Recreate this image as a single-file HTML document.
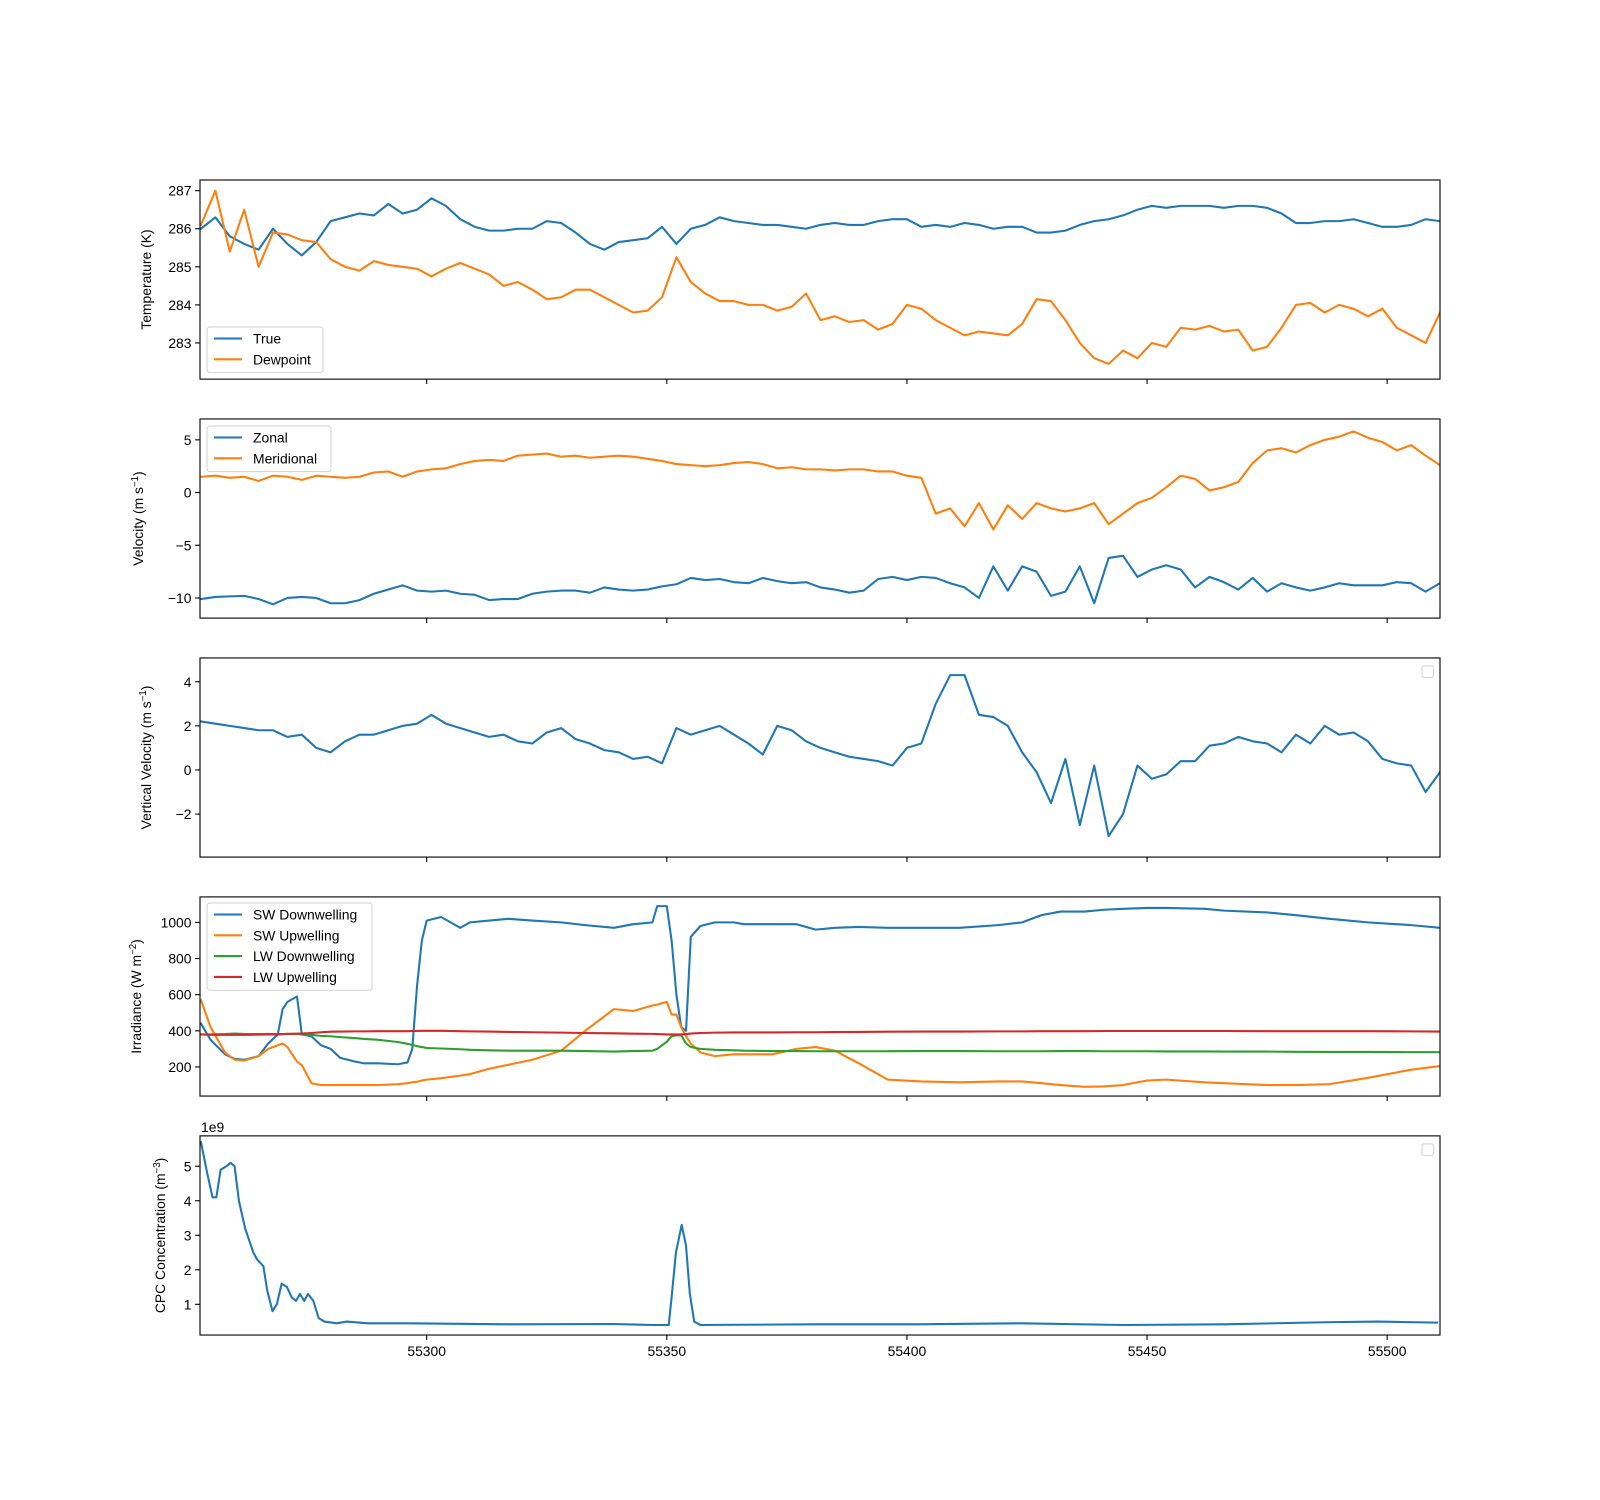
<!DOCTYPE html>
<html><head><meta charset="utf-8"><style>
html,body{margin:0;padding:0;background:#fff;}
svg{display:block;font-family:"Liberation Sans","DejaVu Sans",sans-serif;}
</style></head><body>
<svg id="fig" width="1600" height="1500" viewBox="0 0 1600 1500" xmlns="http://www.w3.org/2000/svg"></svg>
<script>
const xTicks=[55300,55350,55400,55450,55500];
const xGrid=[55253,55256,55259,55262,55265,55268,55271,55274,55277,55280,
55283,55286,55289,55292,55295,55298,55301,55304,55307,55310,
55313,55316,55319,55322,55325,55328,55331,55334,55337,55340,
55343,55346,55349,55352,55355,55358,55361,55364,55367,55370,
55373,55376,55379,55382,55385,55388,55391,55394,55397,55400,
55403,55406,55409,55412,55415,55418,55421,55424,55427,55430,
55433,55436,55439,55442,55445,55448,55451,55454,55457,55460,
55463,55466,55469,55472,55475,55478,55481,55484,55487,55490,
55493,55496,55499,55502,55505,55508,55511];
const tempTrue=[286.0,286.3,285.8,285.6,285.45,286.0,285.6,285.3,285.65,286.2,
286.3,286.4,286.35,286.65,286.4,286.5,286.8,286.6,286.25,286.05,
285.95,285.95,286.0,286.0,286.2,286.15,285.9,285.6,285.45,285.65,
285.7,285.75,286.05,285.6,286.0,286.1,286.3,286.2,286.15,286.1,
286.1,286.05,286.0,286.1,286.15,286.1,286.1,286.2,286.25,286.25,
286.05,286.1,286.05,286.15,286.1,286.0,286.05,286.05,285.9,285.9,
285.95,286.1,286.2,286.25,286.35,286.5,286.6,286.55,286.6,286.6,
286.6,286.55,286.6,286.6,286.55,286.4,286.15,286.15,286.2,286.2,
286.25,286.15,286.05,286.05,286.1,286.25,286.2];
const tempDew=[286.1,287.0,285.4,286.5,285.0,285.9,285.85,285.7,285.65,285.2,
285.0,284.9,285.15,285.05,285.0,284.95,284.75,284.95,285.1,284.95,
284.8,284.5,284.6,284.4,284.15,284.2,284.4,284.4,284.2,284.0,
283.8,283.85,284.2,285.25,284.6,284.3,284.1,284.1,284.0,284.0,
283.85,283.95,284.3,283.6,283.7,283.55,283.6,283.35,283.5,284.0,
283.9,283.6,283.4,283.2,283.3,283.25,283.2,283.5,284.15,284.1,
283.6,283.0,282.6,282.45,282.8,282.6,283.0,282.9,283.4,283.35,
283.45,283.3,283.35,282.8,282.9,283.4,284.0,284.05,283.8,284.0,
283.9,283.7,283.9,283.4,283.2,283.0,283.8];
const zonal=[-10.1,-9.9,-9.85,-9.8,-10.1,-10.6,-10.0,-9.9,-10.0,-10.5,
-10.5,-10.2,-9.6,-9.2,-8.8,-9.3,-9.4,-9.3,-9.6,-9.7,
-10.2,-10.1,-10.1,-9.6,-9.4,-9.3,-9.3,-9.5,-9.0,-9.2,
-9.3,-9.2,-8.9,-8.7,-8.1,-8.3,-8.2,-8.5,-8.6,-8.1,
-8.4,-8.6,-8.5,-9.0,-9.2,-9.5,-9.3,-8.2,-8.0,-8.3,
-8.0,-8.1,-8.6,-9.0,-10.0,-7.0,-9.3,-7.0,-7.5,-9.8,
-9.4,-7.0,-10.5,-6.2,-6.0,-8.0,-7.3,-6.9,-7.3,-9.0,
-8.0,-8.5,-9.2,-8.1,-9.4,-8.6,-9.0,-9.3,-9.0,-8.6,
-8.8,-8.8,-8.8,-8.5,-8.6,-9.4,-8.6];
const meridional=[1.5,1.6,1.4,1.5,1.1,1.6,1.5,1.2,1.6,1.5,
1.4,1.5,1.9,2.0,1.5,2.0,2.2,2.3,2.7,3.0,
3.1,3.0,3.5,3.6,3.7,3.4,3.5,3.3,3.4,3.5,
3.4,3.2,3.0,2.7,2.6,2.5,2.6,2.8,2.9,2.7,
2.3,2.4,2.2,2.2,2.1,2.2,2.2,2.0,2.0,1.6,
1.4,-2.0,-1.5,-3.2,-1.0,-3.5,-1.2,-2.5,-1.0,-1.5,
-1.8,-1.5,-1.0,-3.0,-2.0,-1.0,-0.5,0.5,1.6,1.3,
0.2,0.5,1.0,2.8,4.0,4.2,3.8,4.5,5.0,5.3,
5.8,5.2,4.8,4.0,4.5,3.5,2.6];
const vertVel=[2.2,2.1,2.0,1.9,1.8,1.8,1.5,1.6,1.0,0.8,
1.3,1.6,1.6,1.8,2.0,2.1,2.5,2.1,1.9,1.7,
1.5,1.6,1.3,1.2,1.7,1.9,1.4,1.2,0.9,0.8,
0.5,0.6,0.3,1.9,1.6,1.8,2.0,1.6,1.2,0.7,
2.0,1.8,1.3,1.0,0.8,0.6,0.5,0.4,0.2,1.0,
1.2,3.0,4.3,4.3,2.5,2.4,2.0,0.8,-0.1,-1.5,
0.5,-2.5,0.2,-3.0,-2.0,0.2,-0.4,-0.2,0.4,0.4,
1.1,1.2,1.5,1.3,1.2,0.8,1.6,1.2,2.0,1.6,
1.7,1.3,0.5,0.3,0.2,-1.0,-0.1];
const irrX=[55253,55255,55258,55260,55262,55265,55267,55269,55270,55271,55273,55274,55276,55278,55280,55282,55285,55287,55290,55294,55296,55297,55298,55299,55300,55303,55305,55307,55309,55313,55317,55322,55328,55333,55339,55343,55347,55348,55350,55351,55352,55353,55354,55355,55357,55360,55364,55366,55372,55377,55381,55385,55390,55396,55403,55411,55419,55424,55428,55432,55437,55441,55445,55450,55454,55462,55466,55475,55481,55488,55496,55505,55511];
const swDown=[440,350,270,245,240,260,330,380,520,560,
590,380,370,320,300,250,230,220,220,215,
225,300,650,900,1010,1030,1000,970,1000,1010,
1020,1010,1000,985,970,990,1000,1090,1090,900,
600,420,400,920,980,1000,1000,990,990,990,
960,970,975,970,970,970,985,1000,1040,1060,
1060,1070,1075,1080,1080,1075,1065,1055,1040,1020,
1000,985,970];
const swUp=[570,420,280,240,235,260,300,320,330,310,
230,210,110,100,100,100,100,100,100,105,
110,115,118,125,130,138,145,152,160,190,
212,240,290,400,520,510,540,545,560,490,
490,420,370,330,280,260,270,270,270,300,
310,290,220,130,120,115,120,120,110,100,
90,92,100,125,130,115,110,100,100,105,
140,185,205];
const lwDown=[380,380,382,385,383,382,383,382,382,383,
383,380,378,372,370,365,360,355,350,338,
328,322,315,310,305,302,300,298,295,292,
290,290,290,288,285,288,290,300,340,370,
375,375,330,310,300,295,292,290,288,288,
287,287,287,287,288,288,287,287,287,288,
288,287,287,287,286,286,285,285,284,283,283,282,282];
const lwUp=[380,378,378,378,378,379,380,380,382,383,
384,385,388,392,395,396,397,397,398,398,
398,399,399,400,400,400,399,398,397,396,
394,392,390,388,386,384,383,382,380,380,
380,380,382,385,388,390,391,391,391,392,
392,393,394,395,396,396,397,397,398,398,
398,399,399,399,399,399,399,398,398,398,398,397,396];
const cpcX=[55253,55254.3,55255.4,55256.2,55257.1,55258.3,55259.2,55260,55260.9,55262.2,55263.9,55264.7,55266,55266.8,55267.9,55268.8,55269.8,55270.9,55271.9,55272.8,55273.6,55274.5,55275.3,55276.4,55277.5,55278.7,55281.3,55283.4,55287.7,55296.2,55317.4,55338.7,55347.2,55350.4,55351,55351.9,55353.1,55354,55354.8,55355.7,55357,55381,55402,55424,55445,55466,55487,55498,55510.4];
const cpcVal=[5.7,4.8,4.1,4.1,4.9,5.0,5.1,5.0,4.0,3.2,2.5,2.3,2.1,1.4,0.8,1.0,1.6,1.5,1.2,1.1,1.3,1.1,1.3,1.1,0.6,0.5,0.45,0.5,0.45,0.45,0.42,0.43,0.4,0.4,1.2,2.5,3.3,2.7,1.3,0.5,0.4,0.42,0.42,0.45,0.4,0.42,0.48,0.5,0.47];
const tempTicks=[283,284,285,286,287];
const velTicks=[-10,-5,0,5];
const vvTicks=[-2,0,2,4];
const irrTicks=[200,400,600,800,1000];
const cpcTicks=[1,2,3,4,5];

const NS='http://www.w3.org/2000/svg';
const svg=document.getElementById('fig');
const L=200,R=1440,XMIN=55252.8,XMAX=55511.0;
const PH=199.14,GAP=39.83;
function xs(v){return L+(v-XMIN)/(XMAX-XMIN)*(R-L);}
function mk(tag,attrs,parent){const e=document.createElementNS(NS,tag);for(const k in attrs)e.setAttribute(k,attrs[k]);(parent||svg).appendChild(e);return e;}
const C={blue:'#1f77b4',orange:'#ff7f0e',green:'#2ca02c',red:'#d62728'};
function fmt(v){return v<0?'\u2212'+(-v):String(v);}

const panels=[
 {name:'temperature',ymin:282.05,ymax:287.28,ticks:tempTicks,label:['Temperature (K)'],lx:151},
 {name:'velocity',ymin:-11.91,ymax:6.98,ticks:velTicks,label:['Velocity (m s','\u22121',')'],lx:143},
 {name:'vertical-velocity',ymin:-3.95,ymax:5.08,ticks:vvTicks,label:['Vertical Velocity (m s','\u22121',')'],lx:151},
 {name:'irradiance',ymin:39,ymax:1141,ticks:irrTicks,label:['Irradiance (W m','\u22122',')'],lx:141},
 {name:'cpc',ymin:0.11,ymax:5.88,ticks:cpcTicks,label:['CPC Concentration (m','\u22123',')'],lx:165}
];
panels.forEach((p,i)=>{p.top=180+i*(PH+GAP);p.bot=p.top+PH;p.ys=v=>p.bot-(v-p.ymin)/(p.ymax-p.ymin)*PH;});

function drawLine(p,xArr,yArr,color,name){
  const g=p.g;
  let d='';
  for(let i=0;i<xArr.length;i++){d+=(i?'L':'M')+xs(xArr[i]).toFixed(2)+','+p.ys(yArr[i]).toFixed(2);}
  const path=mk('path',{d:d,fill:'none',stroke:color,'stroke-width':2.08,'stroke-linejoin':'round','stroke-linecap':'square','clip-path':'url(#clip'+p.idx+')'},g);
  
  
}
function legend(p,x0,y0,w,items,name){
  const g=mk('g',{},svg);
  
  
  const h=items.length*20.8+4;
  mk('rect',{x:x0,y:y0,width:w,height:h,rx:3,fill:'#fff','fill-opacity':0.8,stroke:'#d0d0d0','stroke-width':1},g);
  items.forEach((it,k)=>{
    const cy=y0+11.5+k*20.8;
    const e=mk('g',{},g);
    
    
    mk('line',{x1:x0+7,x2:x0+35,y1:cy,y2:cy,stroke:it[1],'stroke-width':2.08},e);
    const t=mk('text',{x:x0+46,y:cy+5,'font-size':13.9,fill:'#000'},e);
    t.textContent=it[0];
  });
}
function emptyLegend(p,name){
  const r=mk('rect',{x:1422,y:p.top+8,width:11.5,height:11.5,rx:2,fill:'#fff',stroke:'#d0d0d0','stroke-width':1});
  
  
}

const defs=mk('defs',{});
panels.forEach((p,i)=>{
  p.idx=i;
  const cp=mk('clipPath',{id:'clip'+i},defs);
  mk('rect',{x:L,y:p.top,width:R-L,height:PH},cp);
  const g=mk('g',{});
  
  
  p.g=g;
  // y ticks
  p.ticks.forEach(v=>{
    const y=p.ys(v);
    mk('line',{x1:L-4.86,x2:L,y1:y,y2:y,stroke:'#000','stroke-width':1.1},g);
    const t=mk('text',{x:L-8.5,y:y+5,'text-anchor':'end','font-size':13.9},g);
    
    
    t.textContent=fmt(v);
  });
  // x ticks
  xTicks.forEach(v=>{
    const x=xs(v);
    mk('line',{x1:x,x2:x,y1:p.bot,y2:p.bot+4.86,stroke:'#000','stroke-width':1.1},g);
    if(i===4){
      const t=mk('text',{x:x,y:p.bot+21,'text-anchor':'middle','font-size':13.9},g);
      
      
      t.textContent=v;
    }
  });
  // y label
  const cy=(p.top+p.bot)/2;
  const yl=mk('text',{x:0,y:0,'text-anchor':'middle','font-size':13.9,transform:'translate('+p.lx+','+cy+') rotate(-90)'},g);
  
  
  const ts1=mk('tspan',{},yl);ts1.textContent=p.label[0];
  if(p.label.length>1){
    const ts2=mk('tspan',{'font-size':9.7,dy:-5},yl);ts2.textContent=p.label[1];
    const ts3=mk('tspan',{dy:5},yl);ts3.textContent=p.label[2];
  }
});

drawLine(panels[0],xGrid,tempTrue,C.blue,'true-temperature-line');
drawLine(panels[0],xGrid,tempDew,C.orange,'dewpoint-line');
drawLine(panels[1],xGrid,zonal,C.blue,'zonal-velocity-line');
drawLine(panels[1],xGrid,meridional,C.orange,'meridional-velocity-line');
drawLine(panels[2],xGrid,vertVel,C.blue,'vertical-velocity-line');
drawLine(panels[3],irrX,swDown,C.blue,'sw-downwelling-line');
drawLine(panels[3],irrX,swUp,C.orange,'sw-upwelling-line');
drawLine(panels[3],irrX,lwDown,C.green,'lw-downwelling-line');
drawLine(panels[3],irrX,lwUp,C.red,'lw-upwelling-line');
drawLine(panels[4],cpcX,cpcVal,C.blue,'cpc-concentration-line');

panels.forEach(p=>{
  const fr=mk('rect',{x:L,y:p.top,width:R-L,height:PH,fill:'none',stroke:'#000','stroke-width':1.1});
  
  
});

legend(panels[0],207,327,116,[['True',C.blue],['Dewpoint',C.orange]],'temperature-legend');
legend(panels[1],207,426,124,[['Zonal',C.blue],['Meridional',C.orange]],'velocity-legend');
legend(panels[3],207,903,165,[['SW Downwelling',C.blue],['SW Upwelling',C.orange],['LW Downwelling',C.green],['LW Upwelling',C.red]],'irradiance-legend');
emptyLegend(panels[2],'vertical-velocity-legend');
emptyLegend(panels[4],'cpc-legend');

const off=mk('text',{x:201,y:panels[4].top-4,'font-size':13.9});


off.textContent='1e9';
</script>
</body></html>
